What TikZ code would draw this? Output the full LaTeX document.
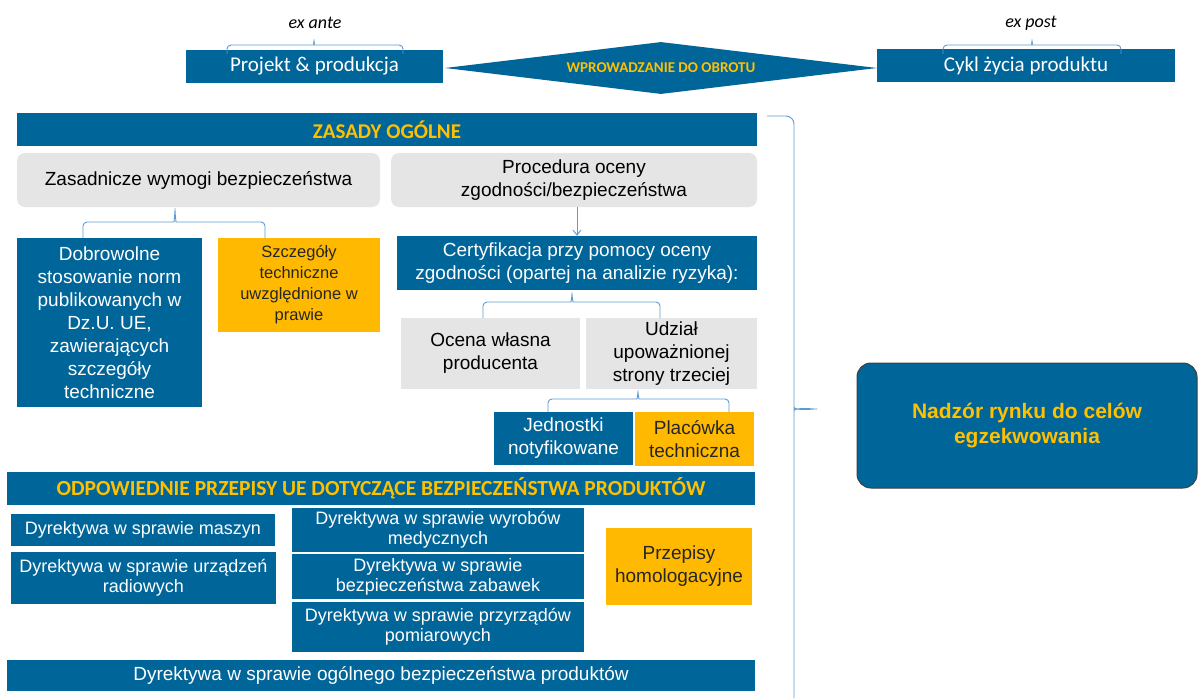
\documentclass[tikz,border=0pt]{standalone}
\usepackage{fontspec}
\setmainfont{Liberation Sans}
\newfontfamily\calib{Carlito}
\usepackage{tikz}
\usetikzlibrary{arrows.meta,shapes.geometric,calc}

\definecolor{eublue}{RGB}{0,101,153}
\definecolor{eugold}{RGB}{255,185,0}
\definecolor{eutext}{RGB}{255,192,0}
\definecolor{eugray}{RGB}{229,229,229}
\definecolor{brcblue}{RGB}{91,155,213}

\begin{document}
\begin{tikzpicture}[x=1pt, y=-1pt,
    bluebox/.style={fill=eublue, text=white, align=center, inner sep=0pt},
    goldbox/.style={fill=eugold, text=black!85, align=center, inner sep=0pt},
    graybox/.style={fill=eugray, text=black, align=center, inner sep=0pt},
    titlebar/.style={fill=eublue, text=eutext, inner sep=0pt, font=\calib\bfseries\fontsize{21}{25}\selectfont},
    brc/.style={draw=brcblue, line width=0.9pt, rounded corners=4pt},
    arr/.style={draw=brcblue, line width=0.9pt, -{Straight Barb[length=5pt,width=8pt]}}]

    \fill[white] (0,0) rectangle (1198,698);
    \useasboundingbox (0,0) rectangle (1198,698);

    % Top row: ex ante / placing on the market / ex post
    \node[font=\calib\itshape\fontsize{18}{22}\selectfont] (exante) at (315,23) {ex ante};
    \node[font=\calib\itshape\fontsize{18}{22}\selectfont] (expost) at (1031,23) {ex post};
    \node[bluebox, minimum width=257pt, minimum height=33pt, font=\calib\fontsize{21}{25}\selectfont] (proj) at (314.5,66.5) {Projekt \& produkcja};
    \node[diamond, fill=eublue, text=eutext, inner sep=0pt, aspect=8, minimum width=432pt, minimum height=52pt, font=\calib\bfseries\fontsize{15}{17}\selectfont] (wpr) at (661,68) {WPROWADZANIE DO OBROTU};
    \node[bluebox, minimum width=298pt, minimum height=33pt, font=\calib\fontsize{21}{25}\selectfont] (cykl) at (1026,65.5) {Cykl życia produktu};

    \coordinate (anteL) at (227,54);
    \coordinate (anteR) at (403,54);
    \coordinate (anteT) at (314,37);
    \draw[brc] (anteL) |- ($(anteT)+(-4,8)$) .. controls +(3,0) and +(0,5) .. (anteT) .. controls +(0,5) and +(-3,0) .. ($(anteT)+(4,8)$) -| (anteR);

    \coordinate (postL) at (943,54);
    \coordinate (postR) at (1121,54);
    \coordinate (postT) at (1032,37);
    \draw[brc] (postL) |- ($(postT)+(-4,8)$) .. controls +(3,0) and +(0,5) .. (postT) .. controls +(0,5) and +(-3,0) .. ($(postT)+(4,8)$) -| (postR);

    % General principles
    \node[titlebar, minimum width=740pt, minimum height=33pt] (zasady) at (387,129.5) {ZASADY OGÓLNE};
    \node[graybox, rounded corners=8pt, minimum width=363pt, minimum height=54pt, font=\fontsize{19}{23}\selectfont] (zas) at (198.5,180) {Zasadnicze wymogi bezpieczeństwa};
    \node[graybox, rounded corners=8pt, minimum width=366pt, minimum height=54pt, font=\fontsize{19}{23}\selectfont] (proc) at (574,180) {Procedura oceny\\zgodności/bezpieczeństwa};

    \node[bluebox, minimum width=185pt, minimum height=169pt, font=\fontsize{19}{23}\selectfont] (dob) at (109.5,322.5) {Dobrowolne\\stosowanie norm\\publikowanych w\\Dz.U. UE,\\zawierających\\szczegóły\\techniczne};
    \node[goldbox, minimum width=162pt, minimum height=94pt, font=\fontsize{16.5}{21}\selectfont] (szcz) at (299,285) {Szczegóły\\techniczne\\uwzględnione w\\prawie};

    \coordinate (zasL) at (83,238);
    \coordinate (zasR) at (265,238);
    \coordinate (zasT) at (175,206);
    \draw[brc] (zasL) |- ($(zasT)+(-5,16)$) .. controls +(4,0) and +(0,7) .. (zasT) .. controls +(0,7) and +(-4,0) .. ($(zasT)+(5,16)$) -| (zasR);

    \node[bluebox, minimum width=360pt, minimum height=54pt, font=\fontsize{19}{23}\selectfont] (cert) at (577,263) {Certyfikacja przy pomocy oceny\\zgodności (opartej na analizie ryzyka):};
    \draw[arr] (proc.south -| cert.north) -- (cert.north);

    \node[graybox, minimum width=179pt, minimum height=71pt, font=\fontsize{19}{23}\selectfont] (ocena) at (490.5,353.5) {Ocena własna\\producenta};
    \node[graybox, minimum width=171pt, minimum height=71pt, font=\fontsize{19}{23}\selectfont] (udz) at (671.5,353.5) {Udział\\upoważnionej\\strony trzeciej};

    \coordinate (certL) at (483,318);
    \coordinate (certR) at (660,318);
    \coordinate (certT) at (572,290);
    \draw[brc] (certL) |- ($(certT)+(-5,12)$) .. controls +(4,0) and +(0,6) .. (certT) .. controls +(0,6) and +(-4,0) .. ($(certT)+(5,12)$) -| (certR);

    \node[bluebox, minimum width=139pt, minimum height=53pt, font=\fontsize{19}{23}\selectfont] (jedn) at (563.5,438.5) {Jednostki\\notyfikowane};
    \node[goldbox, minimum width=119pt, minimum height=54pt, font=\fontsize{19}{23}\selectfont] (plac) at (694.5,439) {Placówka\\techniczna};

    \coordinate (udzL) at (548,412);
    \coordinate (udzR) at (729,412);
    \coordinate (udzT) at (638,388);
    \draw[brc] (udzL) |- ($(udzT)+(-5,11)$) .. controls +(4,0) and +(0,6) .. (udzT) .. controls +(0,6) and +(-4,0) .. ($(udzT)+(5,11)$) -| (udzR);

    % EU product safety legislation
    \node[titlebar, minimum width=748pt, minimum height=33pt, font=\calib\bfseries\fontsize{21.5}{25}\selectfont] (odp) at (381,488.5) {ODPOWIEDNIE PRZEPISY UE DOTYCZĄCE BEZPIECZEŃSTWA PRODUKTÓW};

    \node[bluebox, minimum width=264pt, minimum height=32pt, font=\fontsize{18}{20}\selectfont] (masz) at (143,530) {Dyrektywa w sprawie maszyn};
    \node[bluebox, minimum width=265pt, minimum height=52pt, font=\fontsize{18}{20}\selectfont] (radio) at (143.5,578) {Dyrektywa w sprawie urządzeń\\radiowych};
    \node[bluebox, minimum width=292pt, minimum height=44pt, font=\fontsize{18}{20}\selectfont] (med) at (438,530) {Dyrektywa w sprawie wyrobów\\medycznych};
    \node[bluebox, minimum width=292pt, minimum height=45pt, font=\fontsize{18}{20}\selectfont] (zab) at (438,576.5) {Dyrektywa w sprawie\\bezpieczeństwa zabawek};
    \node[bluebox, minimum width=292pt, minimum height=50pt, font=\fontsize{18}{20}\selectfont] (pom) at (438,627) {Dyrektywa w sprawie przyrządów\\pomiarowych};
    \node[goldbox, minimum width=146pt, minimum height=77pt, font=\fontsize{19}{23}\selectfont] (homol) at (679,566) {Przepisy\\homologacyjne};

    \node[bluebox, minimum width=748pt, minimum height=31pt, font=\fontsize{19}{23}\selectfont] (ogol) at (381,675.5) {Dyrektywa w sprawie ogólnego bezpieczeństwa produktów};

    % Market surveillance
    \node[fill=eublue, draw=black!75, line width=1pt, rounded corners=14pt, text=eutext, align=center, inner sep=0pt, minimum width=340pt, minimum height=125pt, font=\bfseries\fontsize{21}{25}\selectfont] (nadz) at (1027,425.5) {Nadzór rynku do celów\\egzekwowania};

    \coordinate (rTop) at (767,116);
    \coordinate (rTip) at (822,409);
    \coordinate (rBot) at (794,698);
    \draw[brc, rounded corners=8pt] (rTop) -| ($(rTip)+(-28,-6)$) .. controls +(0,4) and +(-8,0) .. (rTip) .. controls +(-8,0) and +(0,-4) .. ($(rTip)+(-28,6)$) -- (rBot);

\end{tikzpicture}
\end{document}
